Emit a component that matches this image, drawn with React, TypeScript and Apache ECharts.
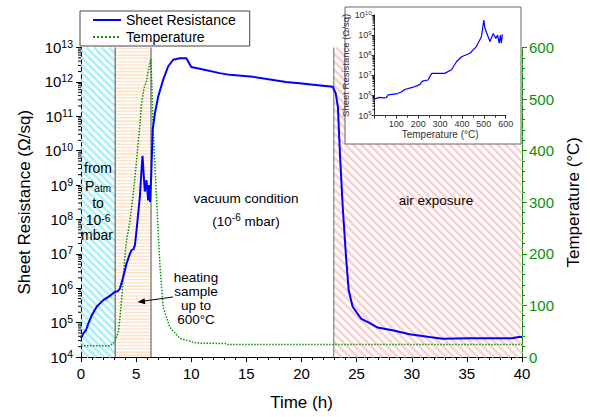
import React, { useEffect, useRef } from 'react';
import * as echarts from 'echarts';

const FONT = '"Liberation Sans", Arial, Helvetica, sans-serif';
const BLUE = '#0000ff';
const GREEN = '#0b8f0b';

// Sheet resistance vs time: [t (h), R (Ω/sq)]
const resistance: [number, number][] = [
  [0, 3.5e4], [0.2, 4.8e4], [0.45, 6.0e4], [0.66, 9.3e4], [0.97, 1.6e5], [1.42, 2.9e5],
  [2.02, 4.5e5], [2.62, 6.0e5], [3.08, 7.9e5], [3.2, 8.0e5], [3.35, 8.2e5], [3.53, 9.8e5],
  [3.83, 2.1e6], [4.13, 5.2e6], [4.43, 1.0e7], [4.6, 1.3e7], [4.75, 1.35e7], [4.89, 1.8e7],
  [5.04, 4.9e7], [5.19, 1.5e8], [5.34, 4.6e8], [5.49, 2.8e9], [5.58, 7.1e9], [5.7, 1.7e9],
  [5.79, 6.5e8], [5.94, 1.4e9], [6.09, 3.6e8], [6.18, 1.0e9], [6.26, 3.2e8], [6.36, 1.5e9],
  [6.5, 4e10], [6.7, 1.2e11], [7.0, 3.7e11], [7.45, 1.15e12], [7.9, 2.8e12], [8.36, 4.4e12],
  [8.96, 4.9e12], [9.56, 4.9e12], [10.0, 2.7e12], [10.77, 2.4e12], [12.58, 1.8e12],
  [13.5, 1.6e12], [15.6, 1.4e12], [18.6, 1.0e12], [19.8, 9.1e11], [21.3, 8.1e11],
  [22.83, 7.2e11], [23.1, 4.7e11], [23.3, 1.9e11], [23.5, 6.6e9], [23.74, 2.3e8],
  [24.04, 8.1e6], [24.28, 8.7e5], [24.64, 2.9e5], [25.4, 1.3e5], [26.15, 9.8e4],
  [26.9, 7.2e4], [28.26, 6.0e4], [29.8, 4.6e4], [31.6, 3.8e4], [32.8, 3.4e4],
  [35.2, 3.5e4], [39.1, 3.5e4], [39.7, 3.8e4], [40, 3.8e4],
];

// Temperature vs time: [t (h), T (°C)]
const temperature: [number, number][] = [
  [0, 22], [2.6, 22], [2.93, 27], [3.1, 32], [3.4, 50], [3.55, 80], [3.7, 115], [3.85, 160],
  [4.0, 200], [4.15, 228], [4.43, 262], [4.73, 315], [5.04, 380], [5.34, 450], [5.49, 490],
  [5.7, 520], [5.94, 535], [6.15, 560], [6.33, 578], [6.42, 534], [6.55, 438], [6.85, 309],
  [7.15, 180], [7.45, 97], [8.05, 58], [8.96, 36], [10.5, 27], [13.2, 26], [13.3, 24], [40, 24],
];

// Inset: sheet resistance vs temperature: [T (°C), R (Ω/sq)]
const insetRT: [number, number][] = [
  [2, 6.8e5], [23, 8.1e5], [40, 7.6e5], [54, 7.9e5], [62, 1.07e6], [100, 1.2e6], [123, 1.5e6],
  [138, 2.0e6], [177, 2.6e6], [207, 3.5e6], [219, 5.2e6], [245, 5.9e6], [253, 8.7e6],
  [262, 1.26e7], [283, 1.26e7], [321, 1.26e7], [352, 1.9e7], [375, 4.8e7], [398, 8.5e7],
  [436, 1.26e8], [466, 2.7e8], [489, 8.3e8], [500, 5.6e9], [505, 2.2e9], [528, 4.8e8],
  [543, 1.2e9], [555, 6.9e8], [563, 1.0e9], [570, 4e8], [576, 1.0e9], [580, 4e8], [585, 1.1e9],
];

// Shaded regions: [start (h), end (h), kind] kind 0 = pumping, 1 = heating, 2 = air
const regions: [number, number, number][] = [
  [0, 3.1, 0],
  [3.1, 6.35, 1],
  [22.92, 40, 2],
];

const mainDecades = [4, 5, 6, 7, 8, 9, 10, 11, 12];
const insetDecades = [5, 6, 7, 8, 9];

function minorLogValues(decades: number[]) {
  const out: [number, number][] = [];
  decades.forEach((d) => {
    for (let k = 2; k <= 9; k++) out.push([0, k * Math.pow(10, d)]);
  });
  return out;
}

const powFmt = (v: number) => {
  const e = Math.round(Math.log10(v));
  return `{b|10}{s|${e}}`;
};

export default function App() {
  const ref = useRef<HTMLDivElement>(null);
  useEffect(() => {
    if (!ref.current) return;
    const chart = echarts.init(ref.current, null, { renderer: 'svg' });

    const hatchRender = (params: any, api: any) => {
      const cs = params.coordSys;
      const x0 = api.coord([api.value(0), 1e5])[0];
      const x1 = api.coord([api.value(1), 1e5])[0];
      const kind = api.value(2);
      const top = cs.y;
      const h = cs.height;
      const bottom = top + h;
      const children: any[] = [];
      if (kind === 1) {
        for (let y = top + 1; y < bottom; y += 3.3) {
          children.push({ type: 'line', shape: { x1: x0, y1: y, x2: x1, y2: y }, style: { stroke: '#fde3c9', lineWidth: 1.6 } });
        }
        children.push({ type: 'line', shape: { x1: x0, y1: top, x2: x0, y2: bottom }, style: { stroke: '#666', lineWidth: 1.2 } });
        children.push({ type: 'line', shape: { x1: x1, y1: top, x2: x1, y2: bottom }, style: { stroke: '#888', lineWidth: 1.5 } });
      } else {
        const period = kind === 0 ? 7.5 : 8;
        const stroke = kind === 0 ? '#b0f1f7' : '#fcd0d0';
        const lw = kind === 0 ? 2.8 : 2.5;
        for (let a = x0 - h; a < x1; a += period) {
          const s0 = Math.max(0, x0 - a);
          const s1 = Math.min(h, x1 - a);
          if (s1 > s0) {
            children.push({ type: 'line', shape: { x1: a + s0, y1: top + s0, x2: a + s1, y2: top + s1 }, style: { stroke, lineWidth: lw } });
          }
        }
        if (kind === 2) {
          children.push({ type: 'line', shape: { x1: x0, y1: top, x2: x0, y2: bottom }, style: { stroke: '#999', lineWidth: 1.5 } });
        }
      }
      return { type: 'group', children };
    };

    const tickRender = (len: number) => (params: any, api: any) => {
      const cs = params.coordSys;
      const p = api.coord([api.value(0), api.value(1)]);
      return { type: 'line', shape: { x1: cs.x - len, y1: p[1], x2: cs.x, y2: p[1] }, style: { stroke: '#000', lineWidth: 1 } };
    };

    const txt = (text: string, x: number, y: number, size = 14, rich?: any) => ({
      type: 'text',
      z: 20,
      style: {
        text, x, y, align: 'center', verticalAlign: 'middle',
        fontSize: size, fontFamily: FONT, fill: '#000',
        rich,
      },
    });
    const annRich = {
      sub: { fontSize: 10, fontFamily: FONT, verticalAlign: 'bottom', lineHeight: 10 },
      sup: { fontSize: 10, fontFamily: FONT, verticalAlign: 'top', lineHeight: 10 },
      m: { fontSize: 13.5, fontFamily: FONT, lineHeight: 18 },
    };

    chart.setOption({
      animation: false,
      textStyle: { fontFamily: FONT },
      legend: {
        left: 80, top: 11, orient: 'vertical', itemGap: 3, itemWidth: 28, itemHeight: 12,
        padding: [2, 14, 2, 12], borderColor: '#444', borderWidth: 1, backgroundColor: '#fff',
        itemStyle: { color: 'rgba(0,0,0,0)', borderColor: 'rgba(0,0,0,0)', borderWidth: 0 },
        textStyle: { fontSize: 14, color: '#000', fontFamily: FONT, lineHeight: 14 },
        data: ['Sheet Resistance', 'Temperature'],
      },
      grid: [
        { left: 81, right: 67, top: 47.5, bottom: 60, containLabel: false },
        { left: 374.5, right: 84.3, top: 15, bottom: 301.3, containLabel: false },
      ],
      xAxis: [
        {
          type: 'value', gridIndex: 0, min: 0, max: 40, interval: 5,
          name: 'Time (h)', nameLocation: 'middle', nameGap: 37,
          nameTextStyle: { fontSize: 17, color: '#000', fontFamily: FONT },
          axisLine: { lineStyle: { color: '#000', width: 1 } },
          axisTick: { length: 5, lineStyle: { color: '#000' } },
          minorTick: { show: true, splitNumber: 5, length: 3, lineStyle: { color: '#000' } },
          axisLabel: { fontSize: 15, color: '#000', margin: 9, fontFamily: FONT },
          splitLine: { show: false },
        },
        {
          type: 'value', gridIndex: 1, min: 0, max: 600, interval: 100, z: 12,
          name: 'Temperature (°C)', nameLocation: 'middle', nameGap: 14,
          nameTextStyle: { fontSize: 10, color: '#333', fontFamily: FONT },
          axisLine: { lineStyle: { color: '#333', width: 1 } },
          axisTick: { length: 3, lineStyle: { color: '#333' } },
          minorTick: { show: true, splitNumber: 2, length: 2, lineStyle: { color: '#333' } },
          axisLabel: { fontSize: 9, color: '#333', margin: 4, fontFamily: FONT, formatter: (v: number) => (v === 0 ? '' : String(v)) },
          splitLine: { show: false },
        },
      ],
      yAxis: [
        {
          type: 'log', gridIndex: 0, min: 1e4, max: 1e13, logBase: 10,
          name: 'Sheet Resistance (Ω/sq)', nameLocation: 'middle', nameGap: 48,
          nameTextStyle: { fontSize: 17, color: '#000', fontFamily: FONT },
          axisLine: { show: true, lineStyle: { color: '#000', width: 1 } },
          axisTick: { show: true, length: 5, lineStyle: { color: '#000' } },
          axisLabel: {
            margin: 8, formatter: powFmt,
            rich: {
              b: { fontSize: 15, color: '#000', fontFamily: FONT, lineHeight: 18 },
              s: { fontSize: 10.5, color: '#000', fontFamily: FONT, verticalAlign: 'top', lineHeight: 10 },
            },
          },
          splitLine: { show: false },
        },
        {
          type: 'value', gridIndex: 0, position: 'right', min: 0, max: 600, interval: 100,
          name: 'Temperature (°C)', nameLocation: 'middle', nameGap: 43, nameRotate: 90,
          nameTextStyle: { fontSize: 17, color: '#000', fontFamily: FONT },
          axisLine: { show: true, lineStyle: { color: GREEN, width: 1 } },
          axisTick: { show: true, length: 5, lineStyle: { color: GREEN } },
          minorTick: { show: true, splitNumber: 5, length: 3, lineStyle: { color: GREEN } },
          axisLabel: { fontSize: 15, color: GREEN, margin: 7, fontFamily: FONT },
          splitLine: { show: false },
        },
        {
          type: 'log', gridIndex: 1, min: 1e5, max: 1e10, logBase: 10, z: 12,
          name: 'Sheet Resistance (Ω/sq)', nameLocation: 'middle', nameGap: 19,
          nameTextStyle: { fontSize: 9.5, color: '#333', fontFamily: FONT },
          axisLine: { show: true, lineStyle: { color: '#333', width: 1 } },
          axisTick: { show: true, length: 3, lineStyle: { color: '#333' } },
          axisLabel: {
            margin: 3, formatter: powFmt,
            rich: {
              b: { fontSize: 9, color: '#333', fontFamily: FONT, lineHeight: 11 },
              s: { fontSize: 6, color: '#333', fontFamily: FONT, verticalAlign: 'top', lineHeight: 6 },
            },
          },
          splitLine: { show: false },
        },
      ],
      graphic: [
        { type: 'rect', z: 10, shape: { x: 345, y: 7, width: 176, height: 137 }, style: { fill: '#fff', stroke: '#666', lineWidth: 1 } },
        txt('from', 98, 168),
        txt('P{sub|atm}', 98, 186, 14, annRich),
        txt('to', 98, 203),
        txt('10{sup|-6}', 98, 220, 14, annRich),
        txt('mbar', 97, 235),
        txt('vacuum condition', 246, 198, 13.5),
        txt('({m|10}{sup|-6}{m| mbar)}', 246, 221, 13.5, annRich),
        txt('heating', 196, 277, 13.5),
        txt('sample', 196, 291, 13.5),
        txt('up to', 196, 305, 13.5),
        txt('600°C', 196, 319, 13.5),
        txt('air exposure', 436, 200, 13.5),
        { type: 'line', z: 20, shape: { x1: 173, y1: 297, x2: 144, y2: 301 }, style: { stroke: '#000', lineWidth: 1 } },
        { type: 'polygon', z: 20, shape: { points: [[137.5, 302], [145.3, 304.2], [144.5, 298.2]] }, style: { fill: '#000' } },
      ],
      series: [
        {
          type: 'custom', name: 'regions', xAxisIndex: 0, yAxisIndex: 0, z: 1, silent: true,
          renderItem: hatchRender, encode: { x: [0, 1], y: 3 },
          data: regions.map((r) => [r[0], r[1], r[2], 1e5]),
        },
        {
          type: 'custom', name: 'minorTicksMain', xAxisIndex: 0, yAxisIndex: 0, z: 5, silent: true,
          renderItem: tickRender(3), encode: { x: 0, y: 1 },
          data: minorLogValues(mainDecades),
        },
        {
          name: 'Temperature', type: 'line', xAxisIndex: 0, yAxisIndex: 1, z: 3,
          data: temperature, symbol: 'none', smooth: false,
          lineStyle: { color: GREEN, width: 1.5, type: 'dotted' }, itemStyle: { color: GREEN },
        },
        {
          name: 'Sheet Resistance', type: 'line', xAxisIndex: 0, yAxisIndex: 0, z: 4,
          data: resistance, symbol: 'none', smooth: false,
          lineStyle: { color: BLUE, width: 2 }, itemStyle: { color: BLUE },
        },
        {
          type: 'custom', name: 'minorTicksInset', xAxisIndex: 1, yAxisIndex: 2, z: 13, silent: true,
          renderItem: tickRender(2), encode: { x: 0, y: 1 },
          data: minorLogValues(insetDecades),
        },
        {
          name: 'inset', type: 'line', xAxisIndex: 1, yAxisIndex: 2, z: 13,
          data: insetRT, symbol: 'none',
          lineStyle: { color: BLUE, width: 1.2 }, itemStyle: { color: BLUE },
        },
      ],
    });
    return () => chart.dispose();
  }, []);
  return <div ref={ref} style={{ width: 590, height: 417, position: 'absolute', left: 0, top: 0 }} />;
}
